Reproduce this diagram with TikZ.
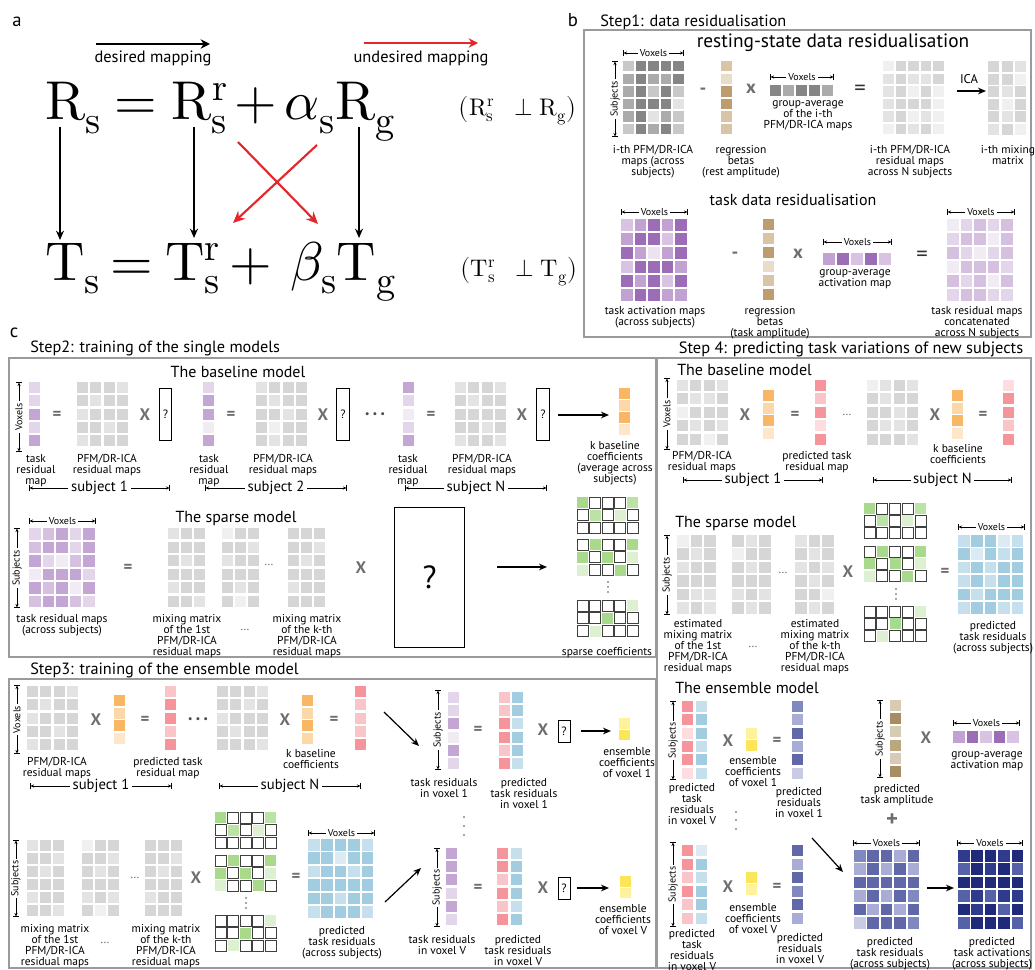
\documentclass[tikz,border=0pt]{standalone}
\usepackage{unicode-math}
\setmainfont{PT Sans}
\setmathfont{Latin Modern Math}
\usetikzlibrary{arrows.meta}
% greys
\definecolor{gV}{HTML}{E3E3E3}\definecolor{gL}{HTML}{C8C8C8}\definecolor{gM}{HTML}{ABABAB}\definecolor{gD}{HTML}{858585}
\definecolor{rA}{HTML}{F0F0F0}\definecolor{rB}{HTML}{E3E3E3}\definecolor{rC}{HTML}{D6D6D6}
% browns
\definecolor{bV}{HTML}{E8DCCB}\definecolor{bL}{HTML}{D9C4A5}\definecolor{bM}{HTML}{BD9C70}
\definecolor{cV}{HTML}{D7CCB3}\definecolor{cD}{HTML}{A68D63}\definecolor{cM}{HTML}{BBA682}
% purples
\definecolor{pV}{HTML}{ECE3F1}\definecolor{pL}{HTML}{D8C4E2}\definecolor{pM}{HTML}{C2A1D3}\definecolor{pD}{HTML}{9C6CB7}
\definecolor{qV}{HTML}{F1EBF4}\definecolor{qL}{HTML}{E3D6EA}\definecolor{qM}{HTML}{D5C0E0}\definecolor{qD}{HTML}{C4A6D4}
% orange, pink, blue, yellow, green
\definecolor{oD}{HTML}{F9B766}\definecolor{oL}{HTML}{FCD7A7}\definecolor{oV}{HTML}{FDE6CA}
\definecolor{kD}{HTML}{F5959B}\definecolor{kL}{HTML}{FAC5C8}\definecolor{kV}{HTML}{FDDDE0}
\definecolor{uV}{HTML}{DCEBF3}\definecolor{uL}{HTML}{C5DFEC}\definecolor{uD}{HTML}{A2CCE0}
\definecolor{yD}{HTML}{FDE55A}\definecolor{yL}{HTML}{FFF29C}
\definecolor{nD}{HTML}{A9D98B}\definecolor{nM}{HTML}{BCE3A6}\definecolor{nL}{HTML}{DDF0D1}
% navy
\definecolor{vA}{HTML}{C9CBE3}\definecolor{vB}{HTML}{A9ADD5}\definecolor{vC}{HTML}{8088C0}\definecolor{vD}{HTML}{6068AA}
\definecolor{wB}{HTML}{5562A8}\definecolor{wC}{HTML}{2F3C8E}\definecolor{wD}{HTML}{1F2A7B}
\definecolor{redm}{HTML}{E5262A}\definecolor{opgrey}{HTML}{6E6E6E}\definecolor{boxgrey}{HTML}{9A9A9A}

\newcommand\grid[6]{%
  \foreach \row [count=\jj from 0] in {#6}{%
    \foreach \cl [count=\ii from 0] in \row {%
      \fill[\cl] ({#1+\ii*#3},{#2+\jj*#4}) rectangle ++(#5,#5);}}}
\newcommand\hbr[6]{%
  \draw[brk] (#2,#4) -- (#3,#4);
  \node[#6] (#1) at ({(#2+#3)/2},#4) {#5};}
\newcommand\vbr[5]{%
  \draw[brk] (#2,#4) -- (#2,#3);
  \node[brt,rotate=90] (#1) at (#2,{(#3+#4)/2}) {#5};}
\newcommand\lbl[4]{\node[lab] (#1) at (#2,#3) {#4};}
\newcommand\vdotz[4]{\fill[black!70] (#1,#2) circle (0.9) (#1,#3) circle (0.9) (#1,#4) circle (0.9);}
\newcommand\SpA[4]{\grid{#1}{#2}{#3}{#4}{11}{{nD,cwb,cwb,cwb,nM},{cwb,nM,cwb,nL,cwb},{cwb,cwb,cwb,cwb,cwb}}}
\newcommand\SpB[4]{\grid{#1}{#2}{#3}{#4}{11}{{cwb,nD,cwb,cwb,nD},{nD,cwb,nD,cwb,nL},{nL,cwb,cwb,nD,cwb}}}
\newcommand\SpC[4]{\grid{#1}{#2}{#3}{#4}{11}{{cwb,cwb,cwb,cwb,nL},{cwb,cwb,nD,cwb,cwb},{cwb,nL,cwb,cwb,cwb}}}

\begin{document}
\begin{tikzpicture}[x=0.75pt,y=-0.75pt,
  every node/.style={inner sep=0pt},
  cwb/.style={fill=white,draw=black!75,line width=0.6pt},
  lab/.style={align=center,anchor=north,font=\fontsize{8.6}{8.3}\selectfont},
  brt/.style={fill=white,inner xsep=1.5pt,inner ysep=0.6pt,font=\fontsize{7.5}{8}\selectfont},
  sbt/.style={fill=white,inner xsep=2pt,inner ysep=0.6pt,font=\fontsize{11}{12}\selectfont},
  brk/.style={>={Stealth[length=2.6pt,width=2.4pt]},|<->|,line width=0.45pt},
  ttl/.style={anchor=west,font=\fontsize{12.2}{13}\selectfont},
  sub/.style={font=\fontsize{12}{13}\selectfont},
  pl/.style={font=\fontsize{14}{14}\selectfont},
  opx/.style={text=opgrey,font=\fontsize{12.5}{13}\selectfont\bfseries},
  opb/.style={text=opgrey,font=\fontsize{14}{14}\selectfont\bfseries},
  qbox/.style={draw,line width=0.7pt,minimum width=9.5pt,minimum height=39pt,font=\fontsize{9}{9}\selectfont},
  qsm/.style={draw,line width=0.7pt,minimum width=9pt,minimum height=17pt,font=\fontsize{9}{9}\selectfont},
  dots/.style={text=black!70,font=\fontsize{8}{8}\selectfont},
  dotl/.style={text=black!60,font=\fontsize{9}{9}\selectfont},
  arr/.style={-{Stealth[length=6pt,width=5pt]},line width=0.9pt},
  frame/.style={draw=boxgrey,line width=0.8pt},
  eqn/.style={font=\fontsize{41}{41}\selectfont},
  eqs/.style={font=\fontsize{18}{18}\selectfont},
  mapt/.style={font=\fontsize{12.3}{13}\selectfont},
  harr/.style={line width=1.8pt,-{Stealth[length=7pt,width=7pt]}},
  varr/.style={line width=1.5pt,-{Stealth[length=7pt,width=6pt]}},
  rarr/.style={line width=1.6pt,redm,-{Stealth[length=9pt,width=8pt]}}]
\useasboundingbox (0,0) rectangle (1035,970);

% ================= panel a
\node[pl] (la) at (17,22) {a};
\coordinate (dm1) at (96,44); \coordinate (dm2) at (210,44);
\draw[harr] (dm1) -- (dm2);
\node[mapt] (dmt) at (153,58) {desired mapping};
\coordinate (um1) at (364,43); \coordinate (um2) at (478,43);
\draw[harr,redm] (um1) -- (um2);
\node[mapt] (umt) at (421,58) {undesired mapping};
\node[eqn,anchor=base west] (Rs) at (45,120) {$\symrm{R}_{\symrm{s}}$};
\node[eqn,anchor=base] (e1) at (136,120) {$=$};
\node[eqn,anchor=base west] (Rrs) at (171,120) {$\symrm{R}^{\symrm{r}}_{\symrm{s}}$};
\node[eqn,anchor=base] (p1) at (256,120) {$+$};
\node[eqn,anchor=base west] (aRg) at (284,120) {$\alpha_{\symrm{s}}\symrm{R}_{\symrm{g}}$};
\node[eqn,anchor=base west] (Ts) at (45,280) {$\symrm{T}_{\symrm{s}}$};
\node[eqn,anchor=base] (e2) at (132,280) {$=$};
\node[eqn,anchor=base west] (Trs) at (165,280) {$\symrm{T}^{\symrm{r}}_{\symrm{s}}$};
\node[eqn,anchor=base] (p2) at (251,280) {$+$};
\node[eqn,anchor=base west] (bTg) at (290,280) {$\beta_{\symrm{s}}\symrm{T}_{\symrm{g}}$};
\coordinate (v1a) at (60,127); \coordinate (v1b) at (60,240);
\coordinate (v2a) at (194,127); \coordinate (v2b) at (194,238);
\coordinate (v3a) at (359,127); \coordinate (v3b) at (359,238);
\draw[varr] (v1a) -- (v1b); \draw[varr] (v2a) -- (v2b); \draw[varr] (v3a) -- (v3b);
\coordinate (x1a) at (238,142); \coordinate (x1b) at (318,224);
\coordinate (x2a) at (317,145); \coordinate (x2b) at (233,223);
\draw[rarr] (x1a) -- (x1b); \draw[rarr] (x2a) -- (x2b);
\node[eqs] (oR) at (518,110) {$\bigl(\symrm{R}^{\symrm{r}}_{\symrm{s}}\;\;\perp\symrm{R}_{\symrm{g}}\bigr)$};
\node[eqs] (oT) at (519,271) {$\bigl(\symrm{T}^{\symrm{r}}_{\symrm{s}}\;\;\perp\symrm{T}_{\symrm{g}}\bigr)$};

% ================= panel b
\node[pl] (lb) at (573,20) {b};
\node[ttl] (s1) at (600,22) {Step1: data residualisation};
\draw[frame] (584,30) rectangle (1031,337);
\node[font=\fontsize{14.5}{15}\selectfont] (rst) at (833,43) {resting-state data residualisation};
\vbr{sb1}{615}{61}{137}{Subjects}
\hbr{vb1}{623}{684}{53}{Voxels}{brt}
\grid{623}{61}{12.5}{12.6}{10.5}{{gL,gD,gD,gD,gD},{gM,gD,gM,gM,gD},{gM,gD,gL,gD,gL},{gM,gD,gD,gD,gV},{gM,gD,gV,gM,gL},{gL,gD,gM,gD,gL}}
\lbl{l1}{653}{145}{i-th PFM/DR-ICA\\maps (across\\subjects)}
\node[opb] (m1) at (703,91) {-};
\grid{721}{61}{12.6}{12.6}{10.5}{{bL},{bV},{bM},{bM},{bL},{bL}}
\lbl{l2}{741}{145}{regression\\betas\\(rest amplitude)}
\node[opb] (x0) at (751,89) {x};
\hbr{vb2}{770}{834}{77}{Voxels}{brt}
\grid{770}{85}{13}{13}{11}{{gD,gM,gD,gD,gM}}
\lbl{l3}{808}{100}{group-average\\of the i-th\\PFM/DR-ICA maps}
\node[opb,text=black!80,font=\fontsize{17}{17}\selectfont] (eqb) at (860,90) {=};
\grid{883}{61}{12.5}{12.6}{10.5}{{rA,rC,rC,rC,rC},{rB,rC,rB,rB,rC},{rB,rC,rA,rC,rA},{rB,rC,rC,rC,rA},{rB,rC,rA,rB,rA},{rA,rC,rB,rC,rA}}
\lbl{l4}{910}{145}{i-th PFM/DR-ICA\\residual maps\\across N subjects}
\node[font=\fontsize{9.5}{10}\selectfont] (ica) at (969,79) {ICA};
\coordinate (ia) at (957,91); \coordinate (ib) at (986,91);
\draw[arr] (ia) -- (ib);
\grid{988}{61}{13.5}{12.6}{11}{{rC,rC,rB},{rC,rC,rA},{rC,rB,rC},{rC,rA,rC},{rC,rB,rC},{rB,rC,rA}}
\lbl{l5}{1008}{145}{i-th mixing\\matrix}
% task
\node[font=\fontsize{12}{13}\selectfont] (tdr) at (793,200) {task data residualisation};
\hbr{vb3}{621}{688}{212}{Voxels}{brt}
\grid{621}{219}{13.6}{14}{11.5}{{pL,pM,pD,pM,pD},{pM,pD,pD,pL,pD},{pD,pM,pV,pM,pD},{pL,pD,pD,pD,pM},{pD,pM,pD,pL,pD},{pM,pD,pD,pM,pM}}
\lbl{l6}{655}{306}{task activation maps\\(across subjects)}
\node[opb] (m2) at (735,255) {-};
\grid{763}{219}{14}{14}{11}{{bM},{bL},{bM},{bV},{bL},{bM}}
\lbl{l7}{770}{306}{regression\\betas\\(task amplitude)}
\node[opb] (x00) at (798,254) {x};
\hbr{vb4}{823}{892}{242}{Voxels}{brt}
\grid{823}{253}{14}{14}{12}{{pM,pD,pL,pD,pL}}
\lbl{l8}{855}{269}{group-average\\activation map}
\node[opb,text=black!80,font=\fontsize{17}{17}\selectfont] (eqt) at (922,256) {=};
\hbr{vb5}{947}{1015}{212}{Voxels}{brt}
\grid{947}{219}{13.6}{14}{11.5}{{qV,qL,qM,qL,qM},{qL,qM,qM,qV,qM},{qM,qL,qV,qL,qM},{qV,qM,qM,qM,qL},{qM,qL,qM,qV,qM},{qL,qM,qM,qL,qL}}
\lbl{l9}{977}{306}{task residual maps\\concatenated\\across N subjects}

% ================= panel c : step 2
\node[pl] (lc) at (14,333) {c};
\node[ttl] (s2) at (30,348) {Step2: training of the single models};
\draw[frame] (9,358) rectangle (656,657);
\node[sub] (bm2) at (238,372) {The baseline model};
\vbr{sb2}{19}{382}{452}{Voxels}
\grid{29}{382}{13.3}{13.3}{11}{{qL},{qL},{qD},{qL},{qD}}
\node[opx] (e21) at (57,415) {=};
\grid{77}{382}{13.3}{13.3}{11}{{rC,rC,rC,rB},{rC,rB,rC,rC},{rB,rC,rC,rC},{rC,rC,rB,rC},{rB,rC,rC,rC}}
\node[opx] (x21) at (145,415) {X};
\node[qbox] (q21) at (165.5,414) {?};
\lbl{l21}{36}{454}{task\\residual\\map}
\lbl{l22}{107}{454}{PFM/DR-ICA\\residual maps}
\grid{203}{382}{13.3}{13.3}{11}{{qL},{qD},{qD},{qV},{qD}}
\node[opx] (e22) at (231,415) {=};
\grid{256}{382}{13.3}{13.3}{11}{{rB,rC,rC,rC},{rC,rB,rC,rC},{rC,rC,rB,rC},{rC,rA,rC,rC},{rC,rB,rC,rC}}
\node[opx] (x22) at (323,415) {X};
\node[qbox] (q22) at (343,414) {?};
\lbl{l23}{209}{454}{task\\residual\\map}
\lbl{l24}{283}{454}{PFM/DR-ICA\\residual maps}
\node[dots] (dd2) at (375,415) {• • •};
\grid{403}{382}{13.3}{13.3}{11}{{qD},{qL},{qV},{qL},{qD}}
\node[opx] (e23) at (431,415) {=};
\grid{455}{382}{13.3}{13.3}{11}{{rB,rC,rC,rB},{rC,rB,rC,rC},{rC,rC,rC,rC},{rC,rC,rB,rC},{rB,rC,rC,rB}}
\node[opx] (x23) at (522,415) {X};
\node[qbox] (q23) at (543,414) {?};
\lbl{l25}{408}{454}{task\\residual\\map}
\lbl{l26}{482}{454}{PFM/DR-ICA\\residual maps}
\coordinate (a21) at (558,415); \coordinate (a22) at (609,415);
\draw[arr] (a21) -- (a22);
\grid{619}{388}{12}{12}{11}{{oD},{oL},{oD},{oV}}
\lbl{l27}{615}{441}{k baseline\\coefficients\\(average across\\subjects)}
\hbr{sj1}{29}{170}{488}{subject 1}{sbt}
\hbr{sj2}{205}{347}{488}{subject 2}{sbt}
\hbr{sjN}{405}{547}{488}{subject N}{sbt}
% sparse model step 2
\node[sub] (sm2) at (236,518) {The sparse model};
\hbr{vb21}{29}{96}{521}{Voxels}{brt}
\vbr{sb21}{17}{528}{608}{Subjects}
\grid{29}{528}{13.5}{13.5}{11.5}{{qL,qM,qD,qL,qD},{qM,qD,qD,qL,qD},{qD,qL,qV,qM,qD},{qV,qD,qD,qD,qL},{qD,qM,qD,qV,qD},{qM,qD,qD,qM,qL}}
\lbl{l28}{62}{614}{task residual maps\\(across subjects)}
\node[opx] (e24) at (128,568) {=};
\grid{168}{528}{13}{13.5}{11}{{rB,rC,rC},{rC,rC,rC},{rC,rB,rC},{rC,rC,rC},{rB,rC,rC},{rC,rC,rB}}
\grid{222}{528}{13}{13.5}{11}{{rA,rC,rC},{rC,rC,rB},{rB,rC,rC},{rC,rC,rC},{rC,rB,rC},{rC,rA,rC}}
\grid{288}{528}{13}{13.5}{11}{{rC,rC,rC},{rC,rC,rB},{rC,rB,rC},{rC,rC,rC},{rB,rC,rC},{rC,rC,rC}}
\node[dotl] (ell21) at (269,565) {…};
\lbl{l29}{187}{614}{mixing matrix\\of the 1st\\PFM/DR-ICA\\residual maps}
\node[dotl] (ell22) at (245,630) {…};
\lbl{l210}{307}{614}{mixing matrix\\of the k-th\\PFM/DR-ICA\\residual maps}
\node[opx] (x24) at (361,568) {X};
\node[draw,line width=0.7pt,minimum width=53pt,minimum height=105pt,font=\fontsize{24}{24}\selectfont] (bq) at (429.5,577) {?};
\coordinate (a23) at (497,567); \coordinate (a24) at (547,567);
\draw[arr] (a23) -- (a24);
\SpA{577}{497}{12.5}{12.8}
\SpB{577}{539}{12.5}{12.8}
\SpC{577}{600}{12.5}{12.8}
\vdotz{608}{582}{587}{592}
\node[lab,anchor=center] (l211) at (607,653) {sparse coefficients};

% ================= step 3
\node[ttl] (s3) at (30,670) {Step3: training of the ensemble model};
\draw[frame] (9,679) rectangle (656,968);
\vbr{sb31}{17}{685}{754}{Voxels}
\grid{27}{686}{13.3}{13.3}{11}{{rC,rC,rC,rB},{rC,rB,rC,rC},{rB,rC,rC,rC},{rC,rC,rB,rC},{rB,rC,rC,rC}}
\node[opx] (x31) at (96,720) {X};
\grid{114}{695}{12.5}{12.5}{11}{{oD},{oL},{oD},{oV}}
\node[opx] (e31) at (145,720) {=};
\grid{165}{686}{13.3}{13.3}{11}{{kL},{kD},{kD},{kL},{kD}}
\lbl{l31}{57}{757}{PFM/DR-ICA\\residual maps}
\lbl{l32}{168}{757}{predicted task\\residual map}
\hbr{sj31}{30}{172}{786}{subject 1}{sbt}
\node[dots] (dd3) at (198,720) {• • •};
\grid{217}{686}{13.3}{13.3}{11}{{rC,rC,rC,rB},{rC,rC,rB,rC},{rB,rC,rC,rC},{rC,rB,rC,rC},{rC,rC,rC,rB}}
\node[opx] (x32) at (285,720) {X};
\grid{302}{695}{12.5}{12.5}{11}{{oD},{oL},{oD},{oL}}
\node[opx] (e32) at (334,720) {=};
\grid{355}{686}{13.3}{13.3}{11}{{kD},{kL},{kL},{kL},{kD}}
\lbl{l33}{311}{749}{k baseline\\coefficients}
\hbr{sj32}{219}{361}{786}{subject N}{sbt}
\coordinate (a31) at (384,712); \coordinate (a32) at (419,746);
\draw[arr] (a31) -- (a32);
\vbr{sb32}{438}{690}{770}{Subjects}
\grid{448}{692}{13.2}{13.2}{11}{{qL},{qL},{qD},{qV},{qD},{qL}}
\node[opx] (e33) at (478,730) {=};
\grid{499}{692}{13.2}{13.2}{11}{{kL},{kL},{kD},{kD},{kL},{kD}}
\grid{512}{692}{13.2}{13.2}{11}{{uD},{uD},{uL},{uD},{uD},{uL}}
\node[opx] (x33) at (543,730) {X};
\node[qsm] (q31) at (564,731.5) {?};
\coordinate (a33) at (581,731); \coordinate (a34) at (611,731);
\draw[arr] (a33) -- (a34);
\grid{619}{718}{11.5}{11.5}{10.5}{{yL},{yD}}
\lbl{l34}{444}{778}{task residuals\\in voxel 1}
\lbl{l35}{524}{778}{predicted\\task residuals\\in voxel 1}
\lbl{l36}{627}{747}{ensemble\\coefficients\\of voxel 1}
\vdotz{464}{817}{826}{835}
% sparse row
\vbr{sb33}{16}{840}{917}{Subjects}
\grid{27}{840}{13}{13}{11}{{rB,rC,rC},{rC,rC,rB},{rC,rB,rC},{rC,rC,rC},{rB,rC,rC},{rC,rC,rB}}
\grid{82}{840}{13}{13}{11}{{rA,rC,rC},{rC,rC,rB},{rC,rB,rC},{rC,rC,rC},{rB,rC,rB},{rC,rA,rC}}
\grid{145}{840}{13}{13}{11}{{rC,rC,rC},{rC,rC,rB},{rC,rB,rC},{rC,rC,rC},{rB,rC,rC},{rC,rC,rC}}
\node[dotl] (ell31) at (135,878) {…};
\lbl{l37}{55}{924}{mixing matrix\\of the 1st\\PFM/DR-ICA\\residual maps}
\node[dotl] (ell32) at (105,943) {…};
\lbl{l38}{166}{924}{mixing matrix\\of the k-th\\PFM/DR-ICA\\residual maps}
\node[opx] (x34) at (196,878) {X};
\SpA{215}{812}{12.6}{12.6}
\SpB{215}{855}{12.6}{12.6}
\SpC{215}{915}{12.6}{12.6}
\vdotz{246}{898}{903}{908}
\node[opx] (e34) at (296,877) {=};
\hbr{vb31}{308}{375}{833}{Voxels}{brt}
\grid{308}{839}{13.4}{13.4}{11.5}{{uL,uD,uD,uD,uL},{uD,uD,uV,uD,uD},{uL,uD,uD,uL,uD},{uD,uD,uD,uD,uD},{uD,uD,uL,uD,uD},{uL,uD,uD,uD,uL}}
\lbl{l39}{342}{926}{predicted\\task residuals\\(across subjects)}
\coordinate (a35) at (385,902); \coordinate (a36) at (421,868);
\draw[arr] (a35) -- (a36);
\vbr{sb34}{437}{848}{927}{Subjects}
\grid{446}{848}{13.2}{13.2}{11}{{qD},{qD},{qD},{qL},{qD},{qL}}
\node[opx] (e35) at (478,888) {=};
\grid{497}{848}{13.2}{13.2}{11}{{kD},{kD},{kL},{kD},{kL},{kD}}
\grid{511}{848}{13.2}{13.2}{11}{{uL},{uD},{uD},{uD},{uL},{uD}}
\node[opx] (x35) at (543,888) {X};
\node[qsm] (q32) at (564,888.5) {?};
\coordinate (a37) at (577,888); \coordinate (a38) at (609,888);
\draw[arr] (a37) -- (a38);
\grid{620}{876}{11.5}{11.5}{10.5}{{yD},{yL}}
\lbl{l310}{442}{935}{task residuals\\in voxel V}
\lbl{l311}{518}{935}{predicted\\task residuals\\in voxel V}
\lbl{l312}{623}{904}{ensemble\\coefficients\\of voxel V}

% ================= step 4
\node[font=\fontsize{12.3}{13}\selectfont] (s4) at (851,349) {Step 4: predicting task variations of new subjects};
\draw[frame] (657,358) rectangle (1031,968);
\node[sub,anchor=west] (bm4) at (677,370) {The baseline model};
\vbr{sb41}{667}{378}{450}{Voxels}
\grid{677}{380}{13.4}{13.4}{11}{{rB,rC,rC,rB},{rC,rB,rB,rC},{rA,rC,rC,rC},{rC,rB,rC,rB},{rC,rC,rA,rC}}
\node[opx] (x41) at (745,415) {X};
\grid{763}{390}{12.5}{12.5}{11}{{oD},{oL},{oD},{oV}}
\node[opx] (e41) at (795,415) {=};
\grid{815}{380}{13.4}{13.4}{11}{{kD},{kL},{kD},{kV},{kD}}
\node[dotl] (ell41) at (847,415) {…};
\grid{867}{380}{13.4}{13.4}{11}{{rA,rB,rC,rB},{rC,rB,rC,rC},{rC,rC,rB,rC},{rC,rB,rB,rC},{rC,rC,rC,rB}}
\node[opx] (x42) at (935,415) {X};
\grid{952}{390}{12.5}{12.5}{11}{{oD},{oL},{oD},{oV}}
\node[opx] (e42) at (983,415) {=};
\grid{1003}{380}{13.4}{13.4}{11}{{kV},{kD},{kD},{kL},{kD}}
\lbl{l41}{702}{451}{PFM/DR-ICA\\residual maps}
\lbl{l42}{817}{451}{predicted task\\residual map}
\lbl{l43}{958}{444}{k baseline\\coefficients}
\hbr{sj41}{683}{823}{480}{subject 1}{sbt}
\hbr{sj42}{873}{1012}{480}{subject N}{sbt}
% sparse
\node[sub,anchor=west] (sm4) at (675,523) {The sparse model};
\vbr{sb42}{667}{535}{615}{Subjects}
\grid{677}{535}{13.5}{13.4}{11.5}{{rA,rC,rC},{rC,rB,rC},{rB,rC,rC},{rC,rC,rC},{rC,rB,rB},{rB,rC,rB}}
\grid{732}{535}{13.5}{13.4}{11.5}{{rC,rB,rC},{rA,rC,rC},{rC,rB,rC},{rC,rC,rC},{rB,rC,rB},{rC,rB,rC}}
\grid{795}{535}{13.5}{13.4}{11.5}{{rB,rC,rC},{rC,rB,rC},{rB,rC,rB},{rC,rB,rC},{rC,rC,rA},{rC,rB,rC}}
\node[dotl] (ell42) at (783,573) {…};
\lbl{l44}{698}{619}{estimated\\mixing matrix\\of the 1st\\PFM/DR-ICA\\residual maps}
\node[dotl] (ell43) at (753,647) {…};
\lbl{l45}{815}{619}{estimated\\mixing matrix\\of the k-th\\PFM/DR-ICA\\residual maps}
\node[opx] (x43) at (848,572) {X};
\SpA{864}{503}{12.8}{12.3}
\SpB{864}{546}{12.8}{12.3}
\SpC{864}{606}{12.8}{12.3}
\vdotz{896}{589}{594}{599}
\node[opx] (e43) at (945,572) {=};
\hbr{vb41}{958}{1025}{527}{Voxels}{brt}
\grid{958}{535}{13.4}{13.4}{11.5}{{uL,uD,uD,uV,uL},{uD,uV,uD,uL,uD},{uL,uD,uL,uD,uD},{uL,uD,uL,uD,uD},{uD,uL,uD,uD,uD},{uL,uD,uD,uL,uL}}
\lbl{l46}{993}{621}{predicted\\task residuals\\(across subjects)}
% ensemble
\node[sub,anchor=west] (em4) at (675,688) {The ensemble model};
\vbr{sb43}{673}{701}{780}{Subjects}
\grid{682}{701}{13.3}{13.3}{11}{{kD},{kD},{kV},{kD},{kD},{kV}}
\grid{696}{701}{13.3}{13.3}{11}{{uL},{uD},{uD},{uL},{uD},{uL}}
\node[opx] (x44) at (728,741) {X};
\grid{746}{728}{12}{12}{11}{{yL},{yD}}
\node[opx] (e44) at (777,741) {=};
\grid{792}{701}{13.3}{13.3}{11}{{vC},{vB},{vD},{vB},{vD},{vA}}
\lbl{l47}{692}{783}{predicted\\task\\residuals\\in voxel V}
\lbl{l48}{753}{756}{ensemble\\coefficients\\of voxel 1}
\lbl{l49}{799}{787}{predicted\\residuals\\in voxel 1}
\vdotz{736}{812}{820}{829}
\vbr{sb44}{880}{700}{778}{Subjects}
\grid{890}{700}{13.2}{13.2}{11}{{cV},{cD},{cV},{cM},{cV},{cD}}
\node[opx] (x45) at (926,738) {X};
\hbr{vb42}{953}{1020}{723}{Voxels}{brt}
\grid{953}{731}{13.6}{13.6}{11.5}{{pM,pD,pL,pD,pL}}
\lbl{l410}{987}{751}{group-average\\activation map}
\lbl{l411}{897}{784}{predicted\\task amplitude}
\node[opx,font=\fontsize{17}{17}\selectfont\bfseries] (pl4) at (892,820) {+};
\vbr{sb45}{673}{842}{927}{Subjects}
\grid{682}{845}{13.5}{13.5}{11}{{kD},{kD},{kL},{kD},{kL},{kL}}
\grid{696}{845}{13.5}{13.5}{11}{{uV},{uD},{uL},{uD},{uD},{uL}}
\node[opx] (x46) at (728,887) {X};
\grid{746}{872}{12}{12}{11}{{yD},{yL}}
\node[opx] (e45) at (777,887) {=};
\grid{792}{845}{13.5}{13.5}{11}{{vD},{vB},{vD},{vC},{vD},{vB}}
\lbl{l412}{692}{929}{predicted\\task\\residuals\\in voxel V}
\lbl{l413}{753}{903}{ensemble\\coefficients\\of voxel V}
\lbl{l414}{800}{933}{predicted\\residuals\\in voxel V}
\coordinate (a41) at (812,838); \coordinate (a42) at (843,872);
\draw[arr] (a41) -- (a42);
\hbr{vb43}{853}{920}{843}{Voxels}{brt}
\grid{854}{850}{13.4}{13.4}{11.5}{{vC,vD,vD,vB,vD},{vB,vD,vB,vD,vB},{vD,vD,vD,vD,vD},{vB,vD,vB,vD,vC},{vD,vB,vD,vB,vD},{vA,vD,vD,vD,vC}}
\lbl{l415}{890}{937}{predicted\\task residuals\\(across subjects)}
\coordinate (a43) at (927,888); \coordinate (a44) at (954,888);
\draw[arr] (a43) -- (a44);
\hbr{vb44}{957}{1023}{843}{Voxels}{brt}
\grid{958}{850}{13.4}{13.4}{11.5}{{wC,wD,wD,wC,wD},{wB,wD,wC,wD,wB},{wD,wD,wD,wD,wD},{wB,wC,wB,wC,wC},{wD,wC,wD,wB,wD},{wB,wD,wD,wD,wB}}
\lbl{l416}{992}{937}{predicted\\task activations\\(across subjects)}
\end{tikzpicture}
\end{document}
